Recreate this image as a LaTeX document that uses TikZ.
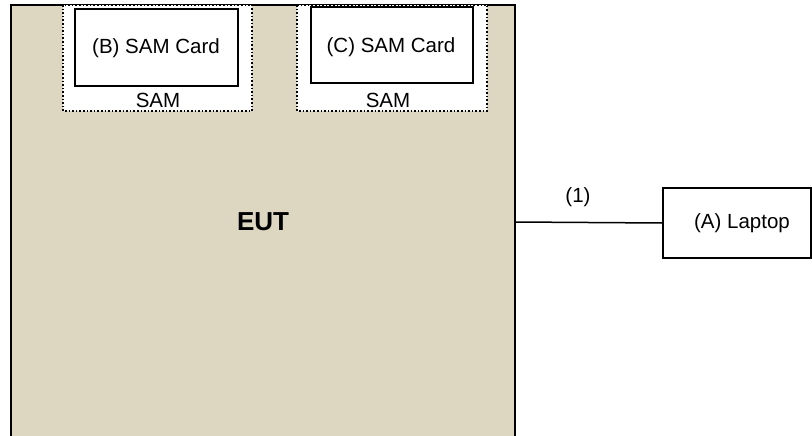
\documentclass[tikz,border=0pt]{standalone}
\usepackage{fontspec}
\setmainfont{Liberation Sans}
\begin{document}
\begin{tikzpicture}[x=1pt,y=-1pt,
  solidbox/.style={draw=black,line width=2pt,fill=white},
  dotbox/.style={draw=black,line width=1.6pt,dotted,fill=white},
  lbl/.style={font=\fontsize{20.5}{24}\selectfont,inner sep=0pt}]
\definecolor{eutfill}{RGB}{221,215,193}
\useasboundingbox (0,0) rectangle (812,436);
% EUT
\fill[eutfill] (11,5) rectangle (515,436);
\draw[line width=2pt] (11,436) -- (11,5) -- (515,5) -- (515,436);
\node[font=\fontsize{26}{30}\selectfont\bfseries,inner sep=0pt] (eut) at (263,222) {EUT};
\coordinate (eutport) at (515,222);
% SAM slots
\draw[dotbox] (63,5) rectangle (252,111);
\draw[solidbox] (75,9) rectangle (238,86);
\node[lbl] (cardB) at (156,48) {(B) SAM Card};
\node[lbl] (samB) at (158,100) {SAM};
\draw[dotbox] (297,5) rectangle (487,111);
\draw[solidbox] (311,7) rectangle (473,83);
\node[lbl] (cardC) at (391,47) {(C) SAM Card};
\node[lbl] (samC) at (388,100) {SAM};
% Laptop
\node[solidbox,minimum width=148pt,minimum height=70pt,inner sep=0pt,font=\fontsize{20.5}{24}\selectfont,anchor=north west] (laptop) at (662,187) {};
\node[lbl] (laptoplbl) at (742,223) {(A) Laptop};
\draw[line width=1.5pt] (eutport) -- (laptop.west);
\node[lbl] (conn) at (578,197) {(1)};
\end{tikzpicture}
\end{document}
